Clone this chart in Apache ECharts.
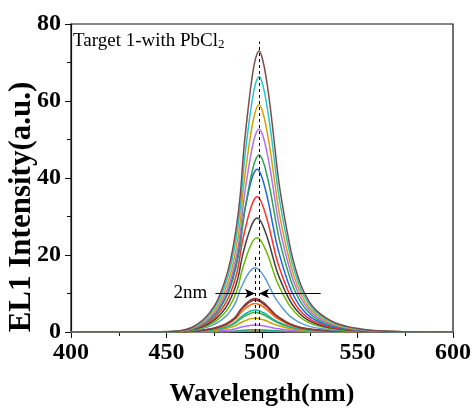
<!DOCTYPE html>
<html><head><meta charset="utf-8">
<script src="https://cdn.jsdelivr.net/npm/echarts@6/dist/echarts.min.js"></script>
<style>html,body{margin:0;padding:0;background:#fff}#c{width:474px;height:409px}</style>
</head><body><div id="c"></div>
<script>
// wavelength grids (nm) for curves peaking near 498.5, 497.5 and 496.5 nm
var wave498 = [400,438.5,453.5,458.5,463.5,468.5,472.5,476.5,480.5,483.5,486.5,488.5,490.5,492.5,494.5,496.5,498.5,500.5,502.5,504.5,506.5,508.5,510.5,513.5,516.5,520.5,524.5,528.5,533.5,538.5,544.5,550.5,558.5,573.5,600];
var wave497 = [400,437.5,452.5,457.5,462.5,467.5,471.5,475.5,479.5,482.5,485.5,487.5,489.5,491.5,493.5,495.5,497.5,499.5,501.5,503.5,505.5,507.5,509.5,512.5,515.5,519.5,523.5,527.5,532.5,537.5,543.5,549.5,557.5,572.5,600];
var wave496 = [400,436.5,451.5,456.5,461.5,466.5,470.5,474.5,478.5,481.5,484.5,486.5,488.5,490.5,492.5,494.5,496.5,498.5,500.5,502.5,504.5,506.5,508.5,511.5,514.5,518.5,522.5,526.5,531.5,536.5,542.5,548.5,556.5,571.5,600];

var xTicks = [400,450,500,550,600];
var yTicks = [0,20,40,60,80];

// EL intensity curves (a.u.), smallest to largest
var s015 = [0,0,0,0,0,0.01,0.01,0.02,0.03,0.04,0.06,0.07,0.1,0.12,0.13,0.15,0.15,0.14,0.13,0.12,0.1,0.08,0.07,0.05,0.04,0.02,0.02,0.01,0.01,0,0,0,0,0,0];
var s03  = [0,0,0,0,0.01,0.01,0.02,0.03,0.05,0.08,0.11,0.14,0.2,0.23,0.27,0.29,0.3,0.29,0.27,0.24,0.2,0.17,0.14,0.1,0.08,0.05,0.03,0.02,0.02,0.01,0.01,0,0,0,0];
var s06  = [0,0,0,0,0.01,0.02,0.04,0.07,0.11,0.15,0.22,0.29,0.39,0.47,0.53,0.58,0.6,0.58,0.53,0.47,0.4,0.33,0.28,0.21,0.15,0.1,0.07,0.05,0.03,0.02,0.01,0.01,0,0,0];
var s18  = [0,0,0,0.01,0.03,0.07,0.12,0.2,0.32,0.46,0.67,0.86,1.17,1.4,1.6,1.75,1.8,1.74,1.6,1.42,1.21,0.99,0.83,0.62,0.45,0.3,0.2,0.14,0.09,0.06,0.04,0.02,0.01,0,0];
var s36  = [0,0,0.01,0.02,0.06,0.14,0.24,0.4,0.65,0.92,1.33,1.73,2.34,2.81,3.2,3.49,3.6,3.47,3.2,2.84,2.41,1.98,1.66,1.24,0.9,0.59,0.4,0.27,0.18,0.12,0.07,0.04,0.02,0,0];
var s51  = [0,0,0.01,0.03,0.09,0.2,0.35,0.56,0.92,1.3,1.89,2.45,3.32,3.98,4.54,4.95,5.1,4.92,4.54,4.03,3.42,2.81,2.35,1.76,1.28,0.84,0.56,0.39,0.26,0.16,0.1,0.06,0.03,0.01,0];
var s57  = [0,0,0.01,0.03,0.1,0.23,0.39,0.63,1.03,1.45,2.11,2.74,3.71,4.45,5.07,5.53,5.7,5.5,5.07,4.5,3.82,3.14,2.62,1.97,1.43,0.94,0.63,0.43,0.29,0.18,0.11,0.07,0.03,0.01,0];
var s74  = [0,0,0.01,0.04,0.13,0.3,0.5,0.81,1.33,1.89,2.74,3.55,4.81,5.77,6.59,7.18,7.4,7.14,6.59,5.85,4.96,4.07,3.4,2.55,1.85,1.22,0.81,0.56,0.37,0.24,0.15,0.09,0.04,0.01,0];
var s83  = [0,0,0.02,0.05,0.14,0.33,0.56,0.91,1.49,2.12,3.07,3.98,5.4,6.47,7.39,8.05,8.3,8.01,7.39,6.56,5.56,4.57,3.82,2.86,2.08,1.37,0.91,0.63,0.42,0.27,0.17,0.1,0.04,0.01,0];
var s87  = [0,0,0.02,0.05,0.15,0.35,0.59,0.96,1.57,2.22,3.22,4.18,5.66,6.79,7.74,8.44,8.7,8.4,7.74,6.87,5.83,4.79,4,3,2.18,1.44,0.96,0.66,0.44,0.28,0.17,0.1,0.04,0.01,0];
var s167 = [0,0,0.03,0.1,0.28,0.67,1.14,1.84,3.01,4.26,6.18,8.02,10.9,13,14.9,16.2,16.7,16.1,14.9,13.2,11.2,9.19,7.68,5.76,4.18,2.76,1.84,1.27,0.84,0.53,0.33,0.2,0.08,0.02,0];
var s245 = [0,0,0.05,0.15,0.42,0.98,1.67,2.7,4.41,6.25,9.07,11.8,15.9,19.1,21.8,23.8,24.5,23.6,21.8,19.4,16.4,13.5,11.3,8.45,6.13,4.04,2.7,1.86,1.23,0.78,0.49,0.29,0.12,0.02,0];
var s296 = [0,0,0.06,0.18,0.5,1.18,2.01,3.26,5.33,7.55,11,14.2,19.2,23.1,26.3,28.7,29.6,28.6,26.3,23.4,19.8,16.3,13.6,10.2,7.4,4.88,3.26,2.25,1.48,0.95,0.59,0.36,0.15,0.03,0];
var s351 = [0,0,0.07,0.21,0.6,1.4,2.39,3.86,6.32,8.95,13,16.8,22.8,27.4,31.2,34,35.1,33.9,31.2,27.7,23.5,19.3,16.1,12.1,8.78,5.79,3.86,2.67,1.76,1.12,0.7,0.42,0.18,0.04,0];
var s423 = [0,0,0.08,0.25,0.72,1.69,2.88,4.65,7.61,10.8,15.7,20.3,27.5,33,37.6,41,42.3,40.8,37.6,33.4,28.3,23.3,19.5,14.6,10.6,6.98,4.65,3.21,2.12,1.35,0.85,0.51,0.21,0.04,0];
var s460 = [0,0,0.09,0.28,0.78,1.84,3.13,5.06,8.28,11.7,17,22.1,29.9,35.9,40.9,44.6,46,44.4,40.9,36.3,30.8,25.3,21.2,15.9,11.5,7.59,5.06,3.5,2.3,1.47,0.92,0.55,0.23,0.05,0];
var s527 = [0,0,0.11,0.32,0.9,2.11,3.58,5.8,9.49,13.4,19.5,25.3,34.3,41.1,46.9,51.1,52.7,50.9,46.9,41.6,35.3,29,24.2,18.2,13.2,8.7,5.8,4.01,2.64,1.69,1.05,0.63,0.26,0.05,0];
var s590 = [0,0,0.12,0.35,1,2.36,4.01,6.49,10.6,15,21.8,28.3,38.4,46,52.5,57.2,59,56.9,52.5,46.6,39.5,32.5,27.1,20.4,14.8,9.74,6.49,4.48,2.95,1.89,1.18,0.71,0.3,0.06,0];
var s663 = [0,0,0.13,0.4,1.13,2.65,4.51,7.29,11.9,16.9,24.5,31.8,43.1,51.7,59,64.3,66.3,64,59,52.4,44.4,36.5,30.5,22.9,16.6,10.9,7.29,5.04,3.32,2.12,1.33,0.8,0.33,0.07,0];
var s730 = [0,0,0.15,0.44,1.24,2.92,4.96,8.03,13.1,18.6,27,35,47.5,56.9,65,70.8,73,70.4,65,57.7,48.9,40.2,33.6,25.2,18.3,12,8.03,5.55,3.65,2.34,1.46,0.88,0.37,0.07,0];

// annotation values
var peakRight = 498.5, peakLeft = 496.3, arrowY = 10, arrowFrom = 475.6, arrowTo = 530.7;
var dashTop = 75.4, dashLeftTop = 20;

var curves = [
  {w: wave496, v: s015, c: '#1f4fd8'},
  {w: wave496, v: s03,  c: '#ff7f0e'},
  {w: wave496, v: s06,  c: '#20a878'},
  {w: wave496, v: s18,  c: '#b266ff'},
  {w: wave496, v: s36,  c: '#c9a200'},
  {w: wave496, v: s51,  c: '#3cb043'},
  {w: wave496, v: s57,  c: '#17b2a8'},
  {w: wave496, v: s74,  c: '#ff6600'},
  {w: wave496, v: s83,  c: '#a02020'},
  {w: wave496, v: s87,  c: '#7b4040'},
  {w: wave496, v: s167, c: '#5b9bd5'},
  {w: wave497, v: s245, c: '#66bb00'},
  {w: wave497, v: s296, c: '#404040'},
  {w: wave497, v: s351, c: '#ff2d2d'},
  {w: wave497, v: s423, c: '#1e64e6'},
  {w: wave498, v: s460, c: '#2e9e5b'},
  {w: wave498, v: s527, c: '#b46ef0'},
  {w: wave498, v: s590, c: '#d9a000'},
  {w: wave498, v: s663, c: '#1fc8cf'},
  {w: wave498, v: s730, c: '#7d4a4a'}
];

var FONT = '"Liberation Serif","Times New Roman",serif';
var series = curves.map(function (cv, i) {
  return {
    type: 'line', name: 'c' + i, smooth: 0.4,
    showSymbol: false, symbol: 'none', silent: true,
    lineStyle: {color: cv.c, width: 1.5},
    data: cv.w.map(function (x, k) { return [x, cv.v[k]]; })
  };
});

var dash = {color: '#000', width: 1, type: [3, 3]};
var solid = {color: '#000', width: 1, type: 'solid'};
series[series.length - 1].markLine = {
  silent: true, animation: false, symbol: ['none', 'none'],
  label: {show: false},
  data: [
    [{coord: [peakRight, 0], lineStyle: dash}, {coord: [peakRight, dashTop]}],
    [{coord: [peakLeft, 0], lineStyle: dash}, {coord: [peakLeft, dashLeftTop]}],
    [{coord: [arrowFrom, arrowY], lineStyle: solid,
      label: {show: true, position: 'start', formatter: '2nm', distance: 8,
              fontSize: 19, fontFamily: FONT, color: '#000'}},
     {coord: [peakLeft, arrowY], symbol: 'arrow', symbolSize: [7, 10]}],
    [{coord: [arrowTo, arrowY], lineStyle: solid},
     {coord: [peakRight, arrowY], symbol: 'arrow', symbolSize: [7, 10]}]
  ]
};

var chart = echarts.init(document.getElementById('c'));
chart.setOption({
  animation: false,
  backgroundColor: '#fff',
  title: {
    left: 73, top: 25, padding: 0,
    text: '{m|Target 1-with PbCl}{s|2}',
    textStyle: {
      fontWeight: 'normal',
      rich: {
        m: {fontFamily: FONT, fontWeight: 'normal', fontSize: 19, color: '#000', lineHeight: 26, verticalAlign: 'bottom'},
        s: {fontFamily: FONT, fontWeight: 'normal', fontSize: 13, color: '#000', lineHeight: 13, verticalAlign: 'bottom'}
      }
    }
  },
  grid: {left: 71, right: 21, top: 24, bottom: 77, containLabel: false, outerBoundsMode: 'none',
         show: true, borderColor: '#111', borderWidth: 1.2, backgroundColor: 'transparent'},
  xAxis: {
    type: 'value', min: xTicks[0], max: xTicks[xTicks.length - 1], interval: 50,
    axisLine: {onZero: false, lineStyle: {color: '#111', width: 1.2}},
    axisTick: {show: true, length: 6, lineStyle: {color: '#111'}},
    minorTick: {show: true, splitNumber: 2, length: 4, lineStyle: {color: '#111'}},
    splitLine: {show: false},
    axisLabel: {fontFamily: FONT, fontWeight: 'bold', fontSize: 24, color: '#000', margin: 9},
    name: 'Wavelength(nm)', nameLocation: 'middle', nameGap: 49, nameMoveOverlap: false,
    nameTextStyle: {fontFamily: FONT, fontWeight: 'bold', fontSize: 26, color: '#000'}
  },
  yAxis: {
    type: 'value', min: yTicks[0], max: yTicks[yTicks.length - 1], interval: 20,
    axisLine: {show: true, onZero: false, lineStyle: {color: '#111', width: 1.2}},
    axisTick: {show: true, length: 6, lineStyle: {color: '#111'}},
    minorTick: {show: true, splitNumber: 2, length: 4, lineStyle: {color: '#111'}},
    splitLine: {show: false},
    axisLabel: {fontFamily: FONT, fontWeight: 'bold', fontSize: 24, color: '#000', margin: 10},
    name: 'EL1 Intensity(a.u.)', nameLocation: 'middle', nameGap: 34, nameMoveOverlap: false,
    nameTextStyle: {fontFamily: FONT, fontWeight: 'bold', fontSize: 31, color: '#000', padding: [0, 58, 0, 0]}
  },
  series: series
});
</script></body></html>
